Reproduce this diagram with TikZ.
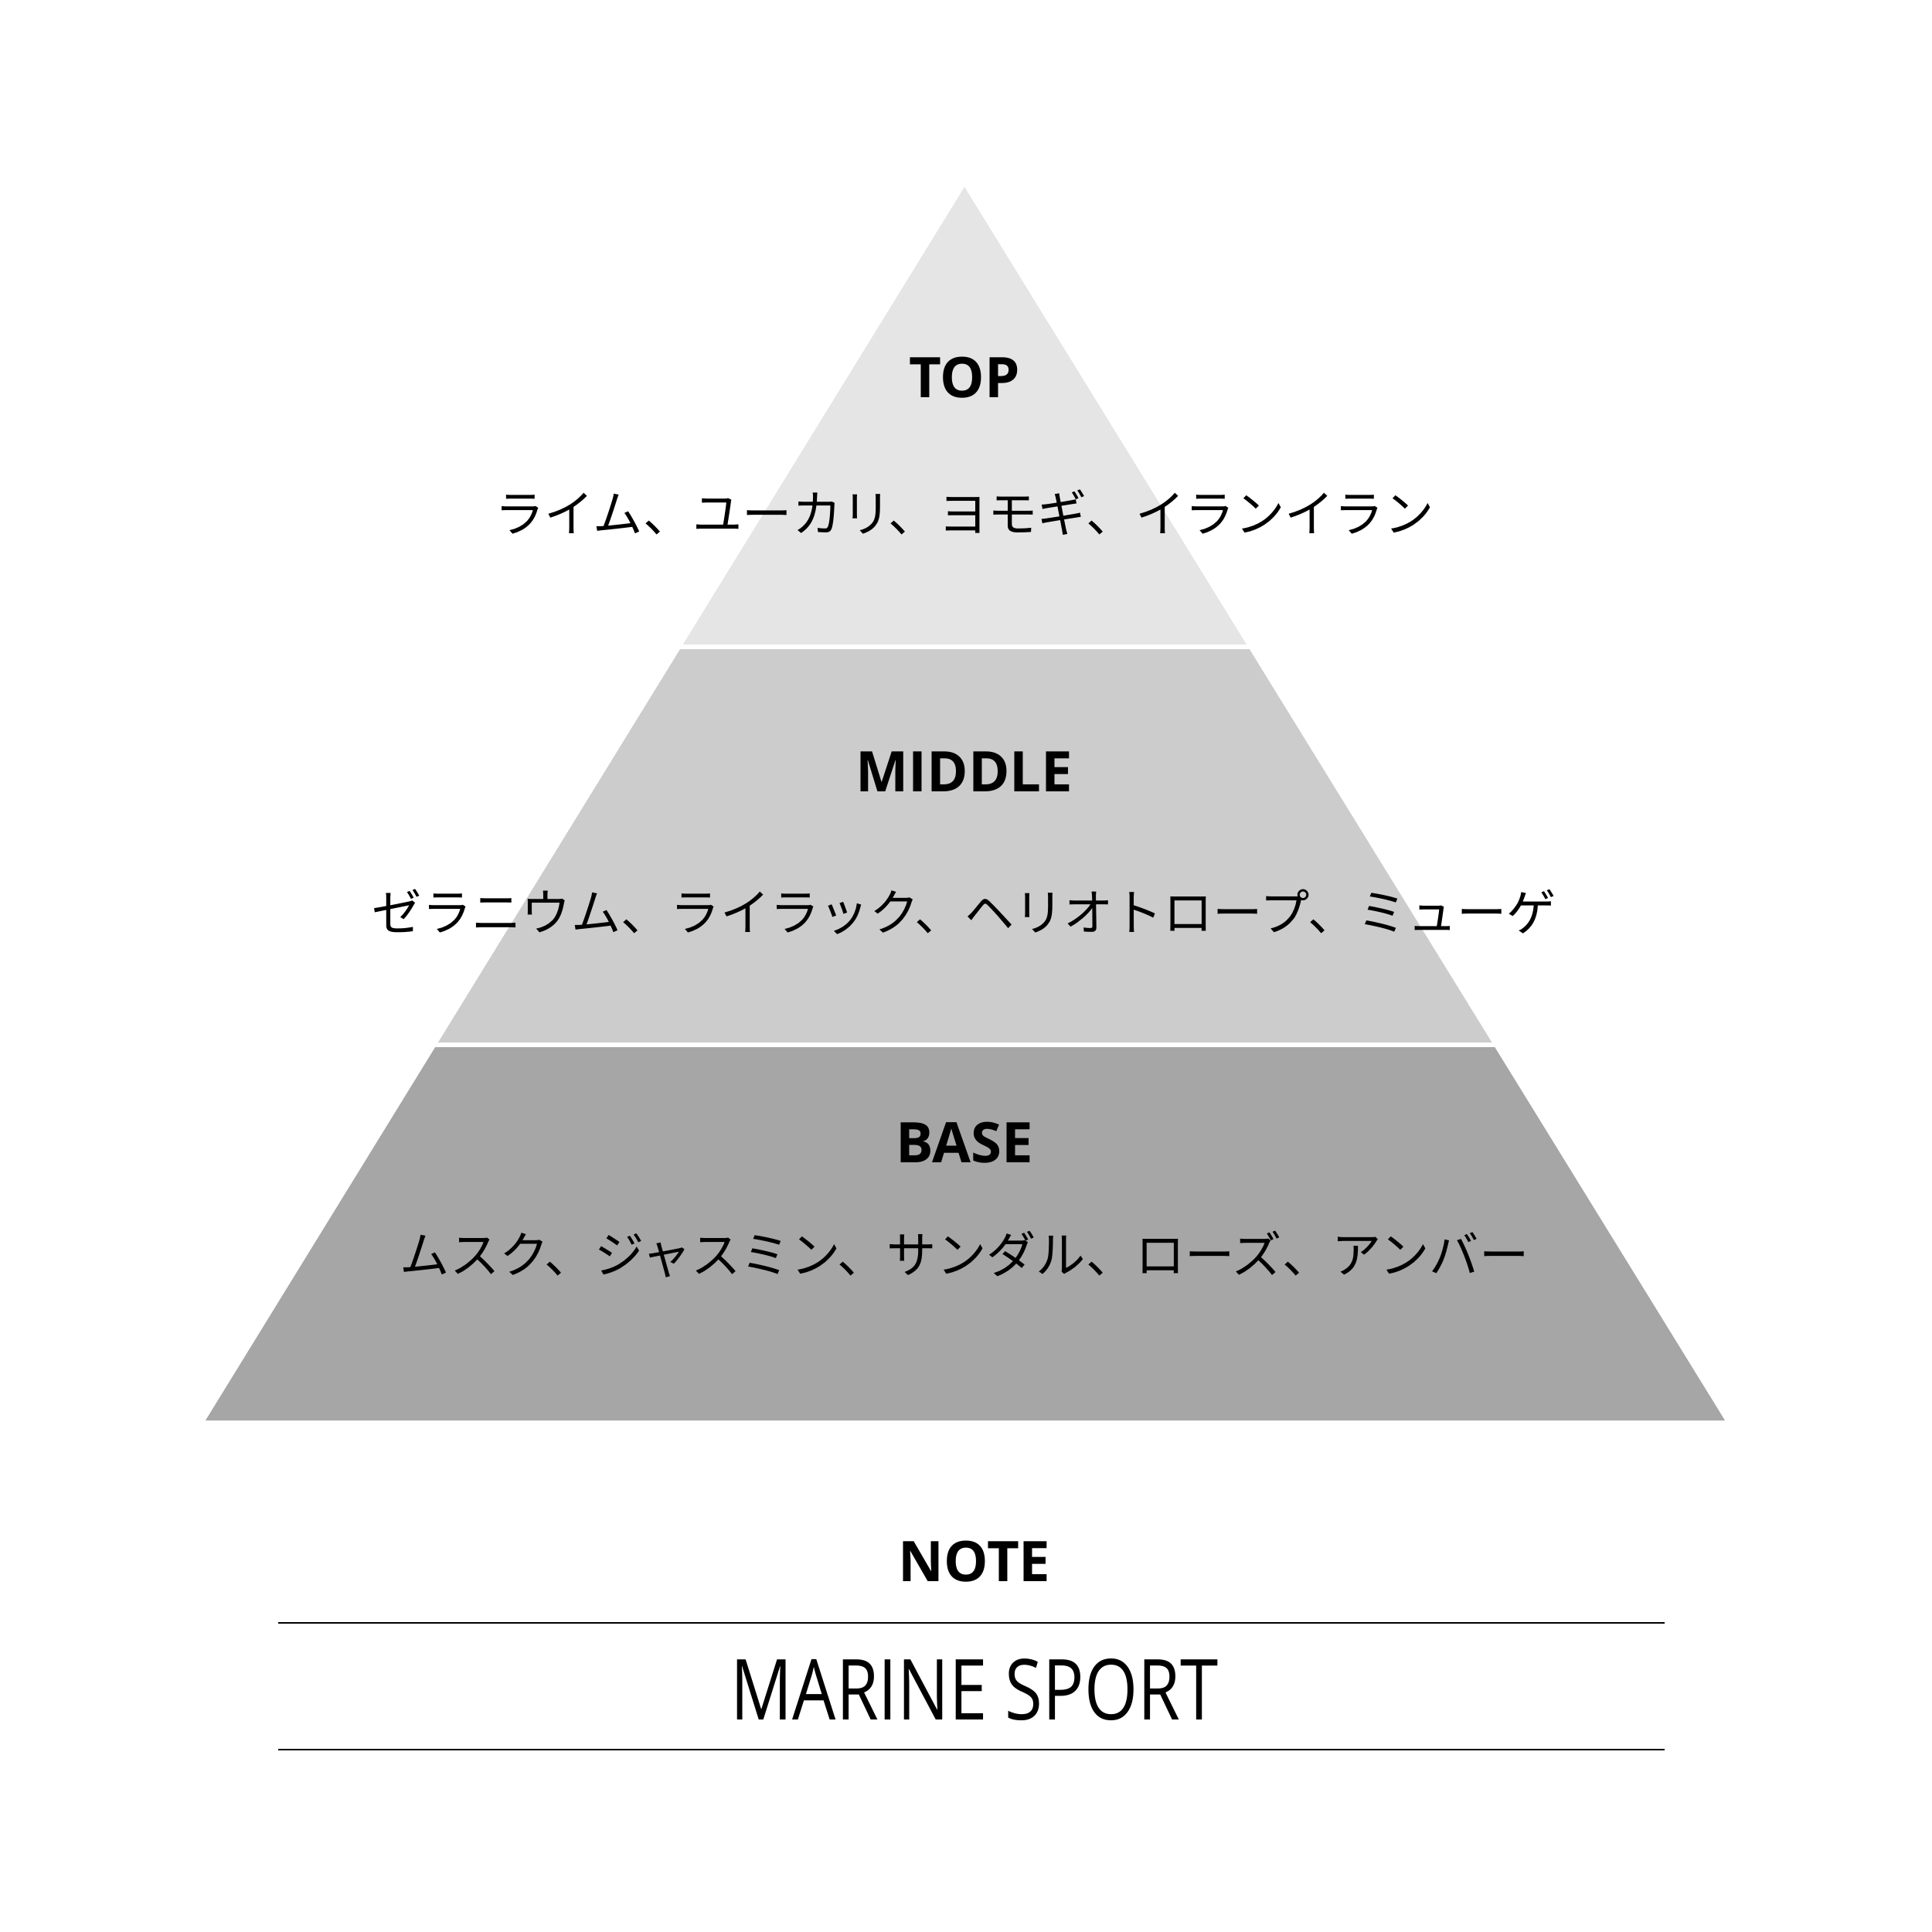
\documentclass[tikz,border=0pt]{standalone}
\usepackage{fontspec}
\setmainfont{Open Sans}
\newfontfamily\jpfont{Noto Sans CJK JP}
\usetikzlibrary{positioning}

\definecolor{topgray}{HTML}{E5E5E5}
\definecolor{midgray}{HTML}{CCCCCC}
\definecolor{basegray}{HTML}{A6A6A6}

\tikzset{
	tier/.style={font=\bfseries\fontsize{20.6}{24}\selectfont, inner sep=0pt},
	notes/.style={font=\jpfont\fontsize{18.3}{21}\selectfont, inner sep=0pt},
	rule/.style={line width=0.6pt}
}

\begin{document}
\begin{tikzpicture}
	\useasboundingbox (0,0) rectangle (25,-25);
	\fill[white] (0,0) rectangle (25,-25);

	\coordinate(APEX) at (12.48,-2.42);
	\coordinate(BL) at (2.66,-18.38);
	\coordinate(BR) at (22.32,-18.38);

	\begin{scope}
		\clip (APEX) -- (BL) -- (BR) -- cycle;
		\fill[topgray] (0,-2.40) rectangle (25,-8.34);
		\fill[midgray] (0,-8.40) rectangle (25,-13.49);
		\fill[basegray] (0,-13.55) rectangle (25,-18.40);
	\end{scope}

	\node[tier] at (12.48,-4.89) (TOP) {TOP};
	\node[notes, below of=TOP, node distance=1.74cm] (TOPN) {ライム、ユーカリ、ヨモギ、イランイラン};

	\node[tier] at (12.48,-9.99) (MID) {MIDDLE};
	\node[notes, below of=MID, node distance=1.81cm] (MIDN) {ゼラニウム、ライラック、ヘリオトロープ、ミューゲ};

	\node[tier] at (12.48,-14.79) (BASE) {BASE};
	\node[notes, below of=BASE, node distance=1.44cm] (BASEN) {ムスク、ジャスミン、サンダル、ローズ、アンバー};

	\node[tier] at (12.61,-20.21) (NOTE) {NOTE};
	\node[font=\fontsize{31}{34}\selectfont, inner sep=0pt, below of=NOTE, node distance=1.66cm] (NAME) {\scalebox{0.815}[1]{MARINE SPORT}};

	\coordinate(R1a) at (3.60,-21.00);
	\coordinate(R1b) at (21.54,-21.00);
	\coordinate(R2a) at (3.60,-22.64);
	\coordinate(R2b) at (21.54,-22.64);
	\draw[rule] (R1a) -- (R1b);
	\draw[rule] (R2a) -- (R2b);
\end{tikzpicture}
\end{document}
